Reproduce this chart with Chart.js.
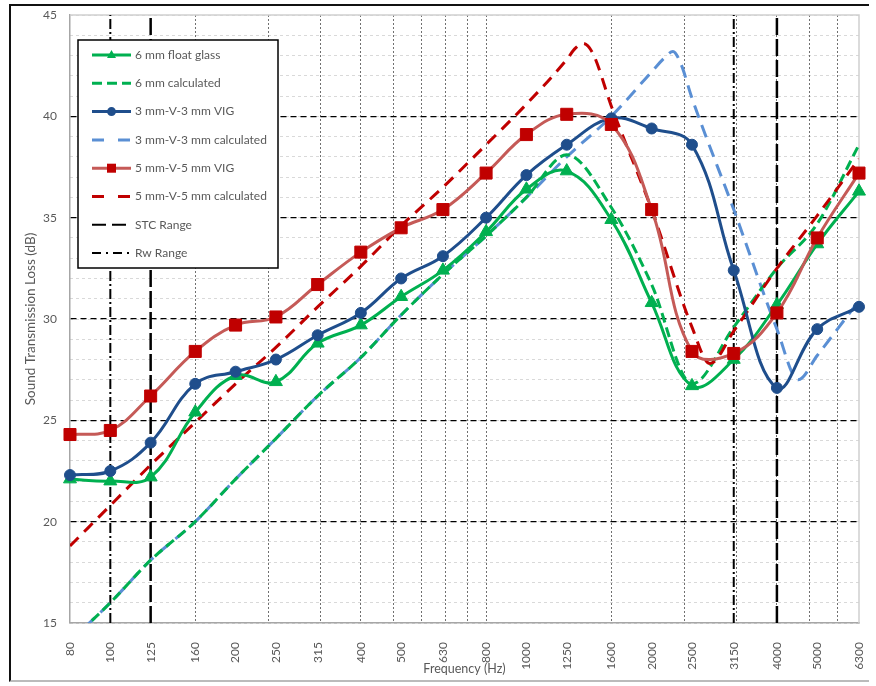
<!DOCTYPE html>
<html>
<head>
<meta charset="utf-8">
<script src="https://cdn.jsdelivr.net/npm/chart.js@4.4.0/dist/chart.umd.min.js"></script>
<style>
  html, body { margin: 0; padding: 0; background: #fff; }
  #wrap { position: relative; width: 876px; height: 686px; }
  #frame { position: absolute; left: 9px; top: 4px; width: 858px; height: 674px;
           border-top: 2px solid #111; border-left: 2px solid #111; border-bottom: 2px solid #bbb;
           pointer-events: none; }
</style>
</head>
<body>
<div id="wrap">
  <canvas id="myChart" width="876" height="686"></canvas>
  <div id="frame"></div>
</div>
<script>
// third-octave band centre frequencies (Hz)
const freqs = [80, 100, 125, 160, 200, 250, 315, 400, 500, 630, 800, 1000, 1250, 1600, 2000, 2500, 3150, 4000, 5000, 6300];

// measured
const glass6 = [22.1, 22.0, 22.2, 25.4, 27.2, 26.9, 28.8, 29.7, 31.1, 32.4, 34.3, 36.4, 37.3, 34.9, 30.8, 26.7, 28.0, 30.7, 33.7, 36.3];
const vig3 = [22.3, 22.5, 23.9, 26.8, 27.4, 28.0, 29.2, 30.3, 32.0, 33.1, 35.0, 37.1, 38.6, 39.9, 39.4, 38.6, 32.4, 26.6, 29.5, 30.6];
const vig5 = [24.3, 24.5, 26.2, 28.4, 29.7, 30.1, 31.7, 33.3, 34.5, 35.4, 37.2, 39.1, 40.1, 39.6, 35.4, 28.4, 28.3, 30.3, 34.0, 37.2];

// calculated
const calc6Freqs = [80, 100, 125, 160, 200, 250, 315, 400, 500, 630, 800, 1000, 1250, 1600, 2000, 2500, 3150, 4000, 5000, 6300];
const calc6 = [14.1, 16.0, 18.1, 20.0, 22.1, 24.1, 26.2, 28.1, 30.2, 32.2, 34.1, 36.0, 38.1, 35.5, 31.7, 26.8, 29.6, 32.5, 34.7, 38.6];
const calc3Freqs = [80, 100, 125, 160, 200, 250, 315, 400, 500, 630, 800, 1000, 1250, 1600, 2000, 2150, 2250, 2350, 2500, 3150, 4000, 4500, 5000, 6300];
const calc3 = [14.1, 16.0, 18.1, 20.0, 22.1, 24.1, 26.2, 28.1, 30.2, 32.2, 34.1, 36.0, 38.0, 40.0, 42.2, 42.9, 43.2, 42.6, 40.9, 35.4, 29.5, 27.0, 28.2, 30.9];
const calc5Freqs = [80, 100, 125, 160, 200, 250, 315, 400, 500, 630, 800, 1000, 1250, 1310, 1370, 1445, 1600, 2000, 2500, 2760, 3150, 4000, 5000, 6300];
const calc5 = [18.8, 20.8, 22.8, 24.9, 26.8, 28.6, 30.6, 32.6, 34.6, 36.5, 38.6, 40.6, 42.8, 43.35, 43.6, 43.1, 40.5, 35.4, 29.6, 27.8, 29.4, 32.5, 35.1, 37.9];

// rating ranges (vertical lines)
const stcRange = [125, 4000];
const rwRange = [100, 3150];

// axes
const yMin = 15, yMax = 45;
const xMin = 80, xMax = 6300;
const gridFreqs = [160, 240, 320, 400, 480, 560, 640, 720, 800, 1600, 2400, 3200, 4000, 4800, 5600];

const GREEN = '#00B050';
const NAVY = '#1F4E8C';
const LBLUE = '#5A8FD4';
const RED_LINE = '#C55A57';
const RED = '#C00000';
const TXT = '#595959';
const FONT = 'Lato, "Noto Sans", sans-serif';

function pts(xs, ys) {
    return xs.map((x, i) => ({ x: x, y: ys[i] }));
}

// keep the plot area where the layout padding puts it
function fixX(h) {
    return s => { s.height = h; s.paddingLeft = 0; s.paddingRight = 0; };
}
function fixY(w) {
    return s => { s.width = w; s.paddingTop = 0; s.paddingBottom = 0; };
}

const measured = (label, ys, color, marker, markerColor, radius) => ({
    label: label,
    data: pts(freqs, ys),
    borderColor: color,
    borderWidth: 3,
    tension: 0.4,
    pointStyle: marker,
    pointRadius: radius,
    pointBackgroundColor: markerColor,
    pointBorderColor: markerColor,
    pointBorderWidth: 1,
    clip: false,
    xAxisID: 'x', yAxisID: 'y'
});

const calculated = (label, xs, ys, color, dash) => ({
    label: label,
    data: pts(xs, ys),
    borderColor: color,
    borderWidth: 3,
    borderDash: dash,
    cubicInterpolationMode: 'monotone',
    pointRadius: 0,
    xAxisID: 'x', yAxisID: 'y'
});

const rangeLine = (label, f, dash, width) => ({
    label: label,
    data: [{ x: f, y: yMin }, { x: f, y: yMax }],
    borderColor: '#000',
    borderWidth: width,
    borderDash: dash,
    pointRadius: 0,
    xAxisID: 'x', yAxisID: 'y'
});

const STC_DASH = [17, 4];
const RW_DASH = [10, 3, 2, 3];

const datasets = [
    measured('5 mm-V-5 mm VIG', vig5, RED_LINE, 'rect', RED, 8.5),
    measured('3 mm-V-3 mm VIG', vig3, NAVY, 'circle', NAVY, 5.5),
    measured('6 mm float glass', glass6, GREEN, 'triangle', GREEN, 7.5),
    calculated('5 mm-V-5 mm calculated', calc5Freqs, calc5, RED, [12, 8]),
    calculated('6 mm calculated', calc6Freqs, calc6, GREEN, [10, 5]),
    calculated('3 mm-V-3 mm calculated', calc3Freqs, calc3, LBLUE, [13, 8]),
    ...stcRange.map(f => rangeLine('STC Range', f, STC_DASH, 2.5)),
    ...rwRange.map(f => rangeLine('Rw Range', f, RW_DASH, 2))
];

const legendItems = [
    { text: '6 mm float glass', color: GREEN, dash: [], marker: 'triangle' },
    { text: '6 mm calculated', color: GREEN, dash: [10, 5] },
    { text: '3 mm-V-3 mm VIG', color: NAVY, dash: [], marker: 'circle' },
    { text: '3 mm-V-3 mm calculated', color: LBLUE, dash: [12, 14] },
    { text: '5 mm-V-5 mm VIG', color: RED_LINE, dash: [], marker: 'rect', markerColor: RED },
    { text: '5 mm-V-5 mm calculated', color: RED, dash: [12, 14] },
    { text: 'STC Range', color: '#000', dash: [14, 6], width: 2 },
    { text: 'Rw Range', color: '#000', dash: [9, 5, 2, 5], width: 2 }
];

const plotFrame = {
    id: 'plotFrame',
    beforeDatasetsDraw(chart) {
        const { ctx, chartArea: a } = chart;
        ctx.save();
        ctx.strokeStyle = '#D0D0D0';
        ctx.lineWidth = 1.5;
        ctx.beginPath();
        ctx.moveTo(a.left, a.top);
        ctx.lineTo(a.right, a.top);
        ctx.lineTo(a.right, a.bottom);
        ctx.stroke();
        ctx.restore();
    }
};

const boxLegend = {
    id: 'boxLegend',
    afterDraw(chart) {
        const ctx = chart.ctx;
        const bx = 78, by = 40, bw = 200, bh = 228;
        ctx.save();
        ctx.fillStyle = '#fff';
        ctx.fillRect(bx, by, bw, bh);
        ctx.strokeStyle = '#000';
        ctx.lineWidth = 1.5;
        ctx.strokeRect(bx, by, bw, bh);
        ctx.font = '12px ' + FONT;
        ctx.textBaseline = 'middle';
        legendItems.forEach((it, i) => {
            const y = by + 15 + i * 28.3;
            ctx.strokeStyle = it.color;
            ctx.lineWidth = it.width || 3;
            ctx.setLineDash(it.dash);
            ctx.beginPath();
            ctx.moveTo(bx + 14, y);
            ctx.lineTo(bx + 53, y);
            ctx.stroke();
            ctx.setLineDash([]);
            const mx = bx + 33.5;
            ctx.fillStyle = it.markerColor || it.color;
            if (it.marker === 'triangle') {
                ctx.beginPath();
                ctx.moveTo(mx, y - 5);
                ctx.lineTo(mx + 4.5, y + 3);
                ctx.lineTo(mx - 4.5, y + 3);
                ctx.closePath();
                ctx.fill();
            } else if (it.marker === 'circle') {
                ctx.beginPath();
                ctx.arc(mx, y, 4.5, 0, Math.PI * 2);
                ctx.fill();
            } else if (it.marker === 'rect') {
                ctx.fillRect(mx - 4.5, y - 4.5, 9, 9);
            }
            ctx.fillStyle = TXT;
            ctx.fillText(it.text, bx + 57, y);
        });
        ctx.restore();
    }
};

new Chart(document.getElementById('myChart'), {
    type: 'line',
    data: { datasets: datasets },
    options: {
        responsive: false,
        animation: false,
        events: [],
        layout: { padding: { left: 10, right: 17, top: 15, bottom: 8 } },
        plugins: { legend: { display: false }, tooltip: { enabled: false } },
        scales: {
            yMinor: {
                type: 'linear', position: 'left', min: yMin, max: yMax,
                ticks: { display: false, stepSize: 1 },
                grid: { color: '#D9D9D9', lineWidth: 1, drawTicks: false },
                border: { display: false, dash: [3, 3] },
                afterFit: fixY(0)
            },
            xGrid: {
                type: 'logarithmic', position: 'bottom', min: xMin, max: xMax,
                afterBuildTicks: s => { s.ticks = gridFreqs.map(v => ({ value: v })); },
                ticks: { display: false },
                grid: { color: '#707070', lineWidth: 1, drawTicks: false },
                border: { display: false, dash: [2, 2] },
                afterFit: fixX(0)
            },
            y: {
                type: 'linear', position: 'left', min: yMin, max: yMax,
                ticks: { stepSize: 5, color: TXT, font: { family: FONT, size: 12 }, padding: 13 },
                grid: {
                    color: c => (c.tick.value > yMin && c.tick.value < yMax) ? '#000' : 'rgba(0,0,0,0)',
                    lineWidth: 1.3, drawTicks: false
                },
                border: { color: '#A6A6A6', width: 1.5, dash: [6, 4] },
                title: {
                    display: true, text: 'Sound Transmission Loss (dB)', color: TXT,
                    font: { family: FONT, size: 13.5 }, padding: { top: 13, bottom: 0 }
                },
                afterFit: fixY(60)
            },
            x: {
                type: 'logarithmic', position: 'bottom', min: xMin, max: xMax,
                afterBuildTicks: s => { s.ticks = freqs.map(v => ({ value: v })); },
                ticks: {
                    autoSkip: false, minRotation: 90, maxRotation: 90, padding: 11,
                    color: TXT, font: { family: FONT, size: 12 },
                    callback: v => String(v)
                },
                grid: { display: false },
                border: { color: '#A6A6A6', width: 1.5 },
                title: {
                    display: true, text: 'Frequency (Hz)', color: TXT,
                    font: { family: FONT, size: 12.5 }, padding: { top: 0, bottom: 1.5 }
                },
                afterFit: fixX(55)
            }
        }
    },
    plugins: [plotFrame, boxLegend]
});
</script>
</body>
</html>
